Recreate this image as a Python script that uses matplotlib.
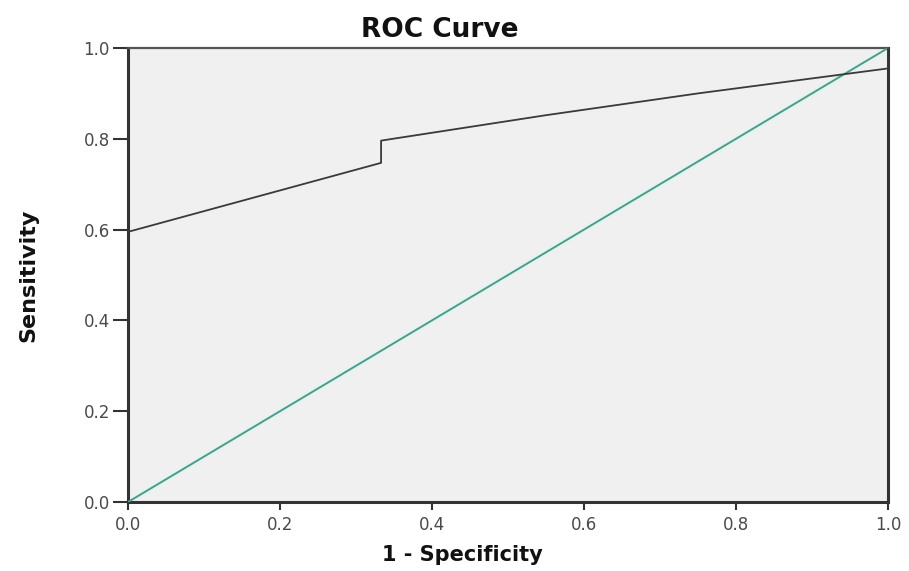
import matplotlib
matplotlib.use("Agg")
import matplotlib.pyplot as plt

# ROC points (1 - specificity, sensitivity)
fpr = [0.0, 0.333, 0.333, 0.55, 0.75, 1.0, 1.0]
tpr = [0.595, 0.747, 0.796, 0.852, 0.900, 0.955, 1.0]
ref_x = [0.0, 1.0]
ref_y = [0.0, 1.0]
ticks = [0.0, 0.2, 0.4, 0.6, 0.8, 1.0]
tick_labels = ["0.0", "0.2", "0.4", "0.6", "0.8", "1.0"]

plt.rcParams['font.family'] = ['DejaVu Sans']

fig = plt.figure(figsize=(9.09, 5.71), dpi=100)
ax = fig.add_axes([128 / 909, 69 / 571, 760 / 909, 454 / 571])
ax.set_facecolor("#f0f0f0")

# reference diagonal with its pale halo, then the curve
ax.plot(ref_x, ref_y, color="#e4f4ef", lw=4.5, zorder=2)
ax.plot(ref_x, ref_y, color="#4f9a8c", lw=1.4, zorder=3)
ax.plot(fpr, tpr, color="#3a3a3a", lw=1.3, zorder=4)

ax.set_xlim(0, 1)
ax.set_ylim(0, 1)
ax.set_xticks(ticks)
ax.set_xticklabels(tick_labels)
ax.set_yticks(ticks)
ax.set_yticklabels(tick_labels)
ax.tick_params(direction="out", width=1.5, color="#333333",
               labelsize=12, labelcolor="#4a4a4a")
ax.tick_params(axis="y", length=11, pad=2)
ax.tick_params(axis="x", length=6, pad=4)

for side in ["left", "bottom", "right"]:
    ax.spines[side].set_linewidth(2.2)
    ax.spines[side].set_color("#333333")
ax.spines["top"].set_linewidth(1.6)
ax.spines["top"].set_color("#555555")

ax.set_title("ROC Curve", fontsize=19, fontweight="bold", color="#111111",
             x=0.41, y=1.0, pad=8)
ax.set_xlabel("1 - Specificity", fontsize=15, fontweight="bold", color="#111111")
ax.xaxis.set_label_coords(0.44, -0.095)
ax.set_ylabel("Sensitivity", fontsize=16, fontweight="bold", color="#111111")
ax.yaxis.set_label_coords(-0.118, 0.5)

fig.savefig("out.png", dpi=100)
